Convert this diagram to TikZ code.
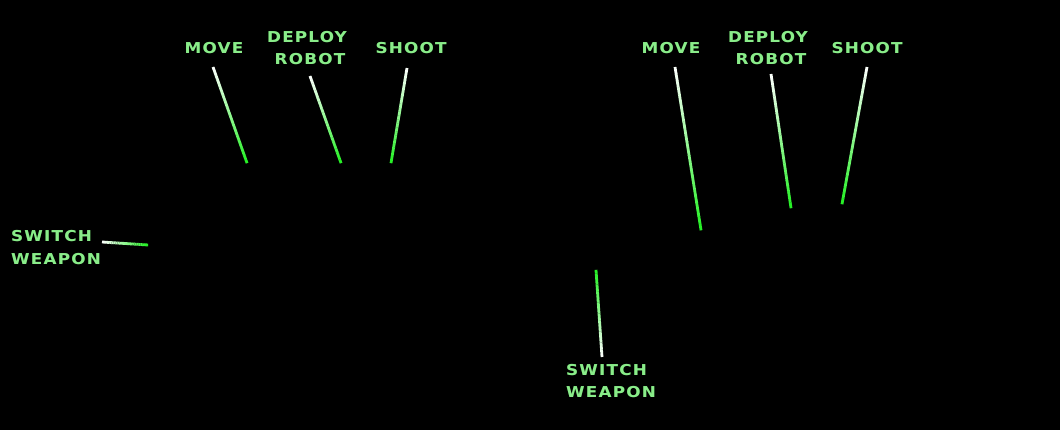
\documentclass[tikz,border=0pt]{standalone}
\usepackage{fontspec}
\setmainfont{DejaVu Sans}
\newfontfamily\lblfont[LetterSpace=8, FakeStretch=1.12]{DejaVu Sans Bold}
\usepackage[outline]{contour}
\contourlength{1.3pt}
\usetikzlibrary{calc}
\definecolor{lblfill}{HTML}{8AEC8A}
\definecolor{lbledge}{HTML}{1C5A1C}
\definecolor{glowgreen}{HTML}{22F022}
\tikzset{
  lbl/.style={font=\lblfont\fontsize{15}{22}\selectfont, text=lblfill, inner sep=0pt, align=center},
  glowseg/.style={line width=2.8pt, line cap=butt},
}
\newcommand{\lbltxt}[1]{\contour{lbledge}{#1}}
% gradient line from white (#1) to green (#2)
\newcommand{\glowline}[2]{%
  \foreach \i in {0,...,23}{%
    \pgfmathsetmacro{\pp}{100*(\i+0.5)/24}%
    \pgfmathsetmacro{\ta}{\i/24}%
    \pgfmathsetmacro{\tb}{(\i+1.05)/24}%
    \draw[glowseg, color=glowgreen!\pp!white] ($(#1)!\ta!(#2)$) -- ($(#1)!\tb!(#2)$);
  }%
}
\begin{document}
\begin{tikzpicture}[x=1pt,y=-1pt]
\fill[black] (0,0) rectangle (1060,430);
\useasboundingbox (0,0) rectangle (1060,430);

% left panel labels
\node[lbl] (lmove) at (214,48) {\lbltxt{MOVE}};
\node[lbl] (ldep1) at (307,37) {\lbltxt{DEPLOY}};
\node[lbl] (ldep2) at (310,59) {\lbltxt{ROBOT}};
\node[lbl] (lshoot) at (411,48) {\lbltxt{SHOOT}};
\node[lbl, anchor=west] (lsw1) at (11,236) {\lbltxt{SWITCH}};
\node[lbl, anchor=west] (lsw2) at (11,259) {\lbltxt{WEAPON}};

% right panel labels
\node[lbl] (rmove) at (671,48) {\lbltxt{MOVE}};
\node[lbl] (rdep1) at (768,37) {\lbltxt{DEPLOY}};
\node[lbl] (rdep2) at (771,59) {\lbltxt{ROBOT}};
\node[lbl] (rshoot) at (867,48) {\lbltxt{SHOOT}};
\node[lbl, anchor=west] (rsw1) at (566,370) {\lbltxt{SWITCH}};
\node[lbl, anchor=west] (rsw2) at (566,392) {\lbltxt{WEAPON}};

% connector endpoints
\coordinate (a1) at (213,67);  \coordinate (b1) at (247,163);
\coordinate (a2) at (310,76);  \coordinate (b2) at (341,163);
\coordinate (a3) at (407,68);  \coordinate (b3) at (391,163);
\coordinate (a4) at (102,242); \coordinate (b4) at (148,245);
\coordinate (a5) at (675,67);  \coordinate (b5) at (701,230);
\coordinate (a6) at (771,74);  \coordinate (b6) at (791,208);
\coordinate (a7) at (867,67);  \coordinate (b7) at (842,204);
\coordinate (a8) at (602,357); \coordinate (b8) at (596,270);

\glowline{a1}{b1}
\glowline{a2}{b2}
\glowline{a3}{b3}
\glowline{a4}{b4}
\glowline{a5}{b5}
\glowline{a6}{b6}
\glowline{a7}{b7}
\glowline{a8}{b8}
\end{tikzpicture}
\end{document}
